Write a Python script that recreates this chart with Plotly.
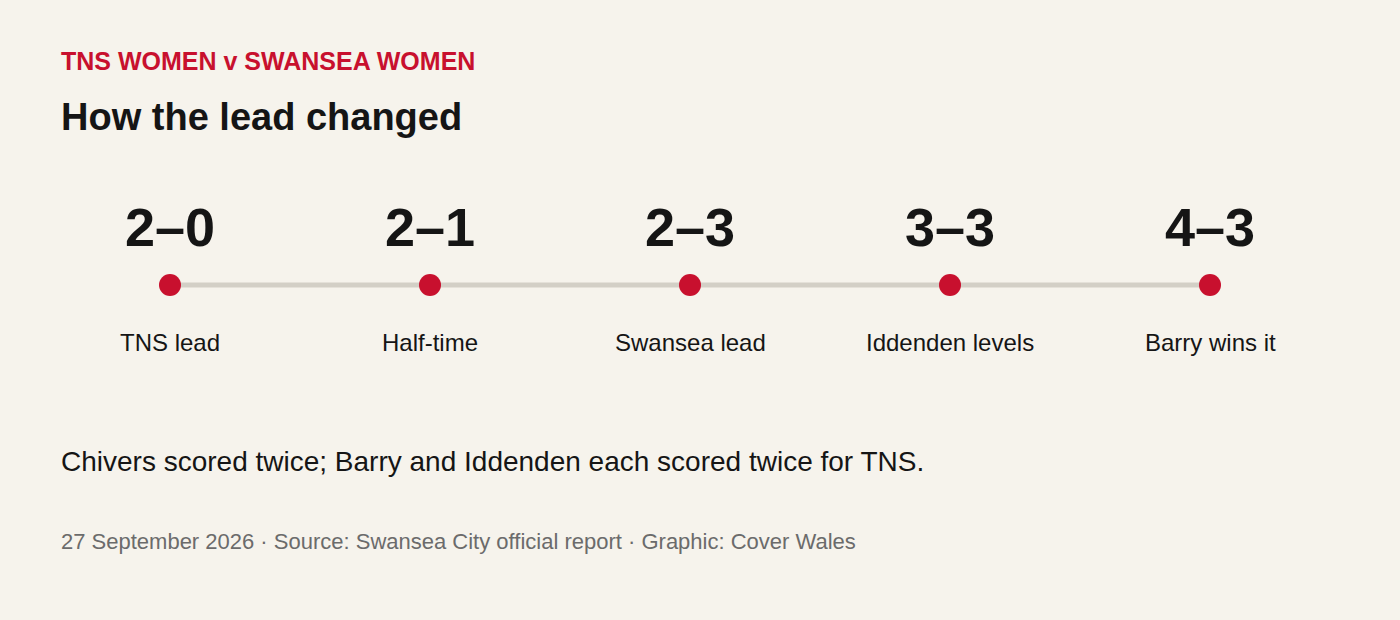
import plotly.graph_objects as go

# data
scores = ["2–0", "2–1", "2–3", "3–3", "4–3"]
moments = ["TNS lead", "Half-time", "Swansea lead", "Iddenden levels", "Barry wins it"]
steps = list(range(len(scores)))

kicker = "TNS WOMEN v SWANSEA WOMEN"
title = "How the lead changed"
note = "Chivers scored twice; Barry and Iddenden each scored twice for TNS."
source = "27 September 2026 · Source: Swansea City official report · Graphic: Cover Wales"

BG = "#f6f3ec"
RED = "#c8102e"
INK = "#151515"
GREY = "#6b6b6b"
LINE = "#d3cfc6"
FONT = "Liberation Sans, Arial, Helvetica, sans-serif"

fig = go.Figure()

# connecting line
fig.add_trace(go.Scatter(
    x=steps, y=[0] * len(steps), mode="lines",
    line=dict(color=LINE, width=5), hoverinfo="skip", showlegend=False))

# event dots
fig.add_trace(go.Scatter(
    x=steps, y=[0] * len(steps), mode="markers",
    marker=dict(color=RED, size=22, line=dict(width=0)),
    text=[f"{s}: {m}" for s, m in zip(scores, moments)],
    hoverinfo="text", showlegend=False, cliponaxis=False))

# scores above, labels below
for i, (s, m) in enumerate(zip(scores, moments)):
    fig.add_annotation(x=i, y=0, xref="x", yref="y", text=f"<b>{s}</b>",
                       showarrow=False, yshift=58, yanchor="middle",
                       font=dict(family=FONT, size=54, color=INK))
    fig.add_annotation(x=i, y=0, xref="x", yref="y", text=m,
                       showarrow=False, yshift=-57, yanchor="middle",
                       font=dict(family=FONT, size=24, color=INK))

def head(txt, y, size, color, bold=False):
    fig.add_annotation(x=61 / 1400, y=1 - y / 620, xref="paper", yref="paper",
                       text=f"<b>{txt}</b>" if bold else txt, showarrow=False,
                       xanchor="left", yanchor="middle", align="left", xshift=-2,
                       font=dict(family=FONT, size=size, color=color))

head(kicker, 61, 25, RED, bold=True)
head(title, 117, 38, INK, bold=True)
head(note, 461, 28, INK)
head(source, 541, 22, GREY)

# 260 px per step, first dot at 170 px; dots at 285 px from top
fig.update_xaxes(range=[-170 / 260, (1400 - 170) / 260], visible=False, fixedrange=True)
fig.update_yaxes(range=[-335, 285], visible=False, fixedrange=True)

fig.update_layout(
    width=1400, height=620,
    margin=dict(l=0, r=0, t=0, b=0),
    paper_bgcolor=BG, plot_bgcolor=BG,
    font=dict(family=FONT, color=INK),
)

fig.write_html("out.html", config={"displayModeBar": False},
               post_script="document.body.style.margin='0';"
                           "document.body.style.background='" + BG + "';")
